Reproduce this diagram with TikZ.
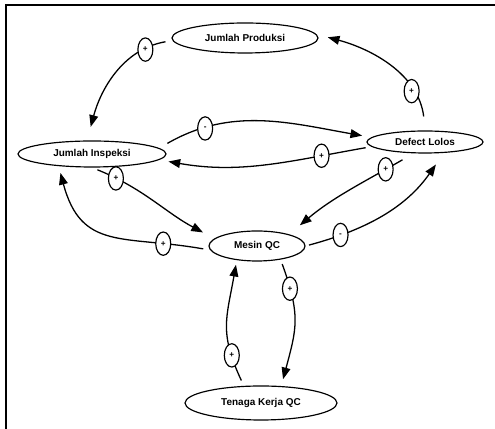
\documentclass[tikz,border=0pt]{standalone}
\usepackage{fontspec}
\setmainfont{Liberation Sans}
\usetikzlibrary{shapes.geometric, arrows.meta}
\tikzset{
    var/.style = {draw, ellipse, line width=1pt, inner sep=0pt,
        font=\bfseries\fontsize{8.5}{10}\selectfont},
    sign/.style = {draw, ellipse, fill=white, line width=1pt, inner sep=0pt,
        minimum width=0.45cm, minimum height=0.7cm, font=\bfseries\fontsize{7}{7}\selectfont},
    link/.style = {line width=1.1pt, -{Triangle[length=10pt,width=7.5pt]}},
}
\begin{document}
\begin{tikzpicture}[x=0.03cm,y=0.03cm]
\useasboundingbox (0,0) rectangle (495,429);
\draw[line width=1.5pt] (6,0) -- (6,424) -- (495,424);

\node[var, minimum width=4.38cm, minimum height=0.9cm] (jp) at (245,391) {Jumlah Produksi};
\node[var, minimum width=4.44cm, minimum height=0.78cm] (ji) at (92,275) {Jumlah Inspeksi};
\node[var, minimum width=3.48cm, minimum height=0.66cm] (dl) at (425,287) {Defect Lolos};
\node[var, minimum width=2.88cm, minimum height=0.9cm] (mq) at (257,183) {Mesin QC};
\node[var, minimum width=4.56cm, minimum height=1.02cm] (tk) at (261,26) {Tenaga Kerja QC};

\draw[link, shorten <=6pt, shorten >=12pt] (jp.182) to[out=190,in=75] node[sign,pos=.2] (s1) {+} (ji.110);
\draw[link, shorten <=12pt, shorten >=10pt] (dl.88) to[out=97,in=-15] node[sign,pos=.27] (s2) {+} (jp.3);
\draw[link, shorten <=8pt, shorten >=8pt] (ji.5) to[out=30,in=170] node[sign,pos=.22] (s3) {-} (dl.175);
\draw[link, shorten <=5pt, shorten >=8pt] (dl.185) to[out=190,in=-10] node[sign,pos=.22] (s4) {+} (ji.355);
\draw[link, shorten <=5pt, shorten >=11pt] (ji.south) to[out=-22,in=152] node[sign,pos=.17] (s5) {+} (mq.170);
\draw[link, shorten <=6pt, shorten >=6pt, looseness=1.3] (mq.185) to[out=170,in=-75] node[sign,pos=.2] (s6) {+} (ji.200);
\draw[link, shorten <=11pt, shorten >=12pt] (dl.225) to[out=210,in=40] node[sign,pos=.2] (s7) {+} (mq.20);
\draw[link, shorten <=3pt, shorten >=12pt] (mq.east) to[out=15,in=235] node[sign,pos=.2] (s8) {-} (dl.330);
\draw[link, shorten <=5pt, shorten >=4pt, looseness=1.2] (tk.135) to[out=115,in=260] node[sign,pos=.22] (s9) {+} (mq.215);
\draw[link, shorten <=4pt, shorten >=6pt, looseness=1.2] (mq.330) to[out=-70,in=75] node[sign,pos=.2] (s10) {+} (tk.40);

\end{tikzpicture}
\end{document}
